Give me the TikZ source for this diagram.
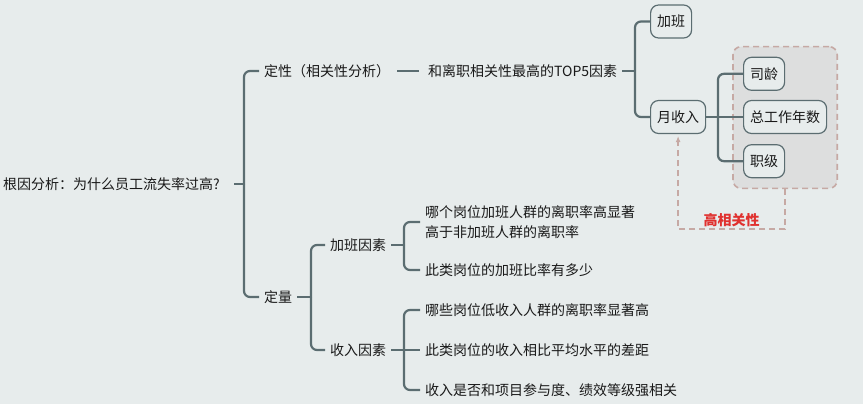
\documentclass[tikz,border=0pt]{standalone}
\usepackage{fontspec}
\setmainfont{Noto Sans CJK SC}
\usepackage{tikz}
\usetikzlibrary{positioning, arrows.meta, fit, backgrounds}

\definecolor{bgcol}{HTML}{E7ECEC}
\definecolor{linecol}{HTML}{5B6D71}
\definecolor{grpfill}{HTML}{DDDEDE}
\definecolor{grpline}{HTML}{C6A9A4}
\definecolor{hotred}{HTML}{E0312F}

\begin{document}
\begin{tikzpicture}[x=1pt, y=-1pt,
    font=\fontsize{14}{20}\selectfont,
    txt/.style={inner sep=5pt, anchor=west, align=left, text=black!90},
    topic/.style={draw=linecol, line width=1.2pt, fill=bgcol, rounded corners=8pt, inner xsep=6.5pt, minimum height=33pt, anchor=west, text=black!90},
    conn/.style={draw=linecol, line width=2.2pt, rounded corners=6pt},
    grp/.style={draw=grpline, fill=grpfill, dash pattern=on 6pt off 4pt, line width=1.6pt, rounded corners=8pt, inner sep=10pt},
    link/.style={draw=grpline, line width=2pt, dash pattern=on 6pt off 4pt, -{Latex[length=6pt, width=5pt]}}]
    \useasboundingbox (0,0) rectangle (863,404);

    % main branches
    \node[txt] (root) at (-2,184) {根因分析：为什么员工流失率过高?};
    \node[txt] (qual) at (259,71) {定性（相关性分析）};
    \node[txt] (quan) at (259,297) {定量};
    \coordinate (j0) at (244,184);

    % qualitative part
    \node[txt] (top5) at (423,71) {和离职相关性最高的TOP5因素};
    \coordinate (j1) at (635,71);
    \node[topic] (ot) at (650,21.5) {加班};
    \node[topic] (inc) at (650,117) {月收入};
    \coordinate (j2) at (718,117);
    \node[topic] (tot) at (743,117) {总工作年数};
    \node[topic, above=9pt of tot.north west, anchor=south west] (sen) {司龄};
    \node[topic, below=10pt of tot.south west, anchor=north west] (rank) {职级};

    % quantitative part
    \node[txt] (otf) at (325,245) {加班因素};
    \node[txt] (incf) at (325,350) {收入因素};
    \coordinate (j3) at (311,297);
    \coordinate (j4) at (404,245);
    \coordinate (j5) at (404,350);
    \node[txt] (q1) at (420,222) {哪个岗位加班人群的离职率高显著\\高于非加班人群的离职率};
    \node[txt] (q2) at (420,270) {此类岗位的加班比率有多少};
    \node[txt] (q3) at (420,310) {哪些岗位低收入人群的离职率显著高};
    \node[txt] (q4) at (420,350) {此类岗位的收入相比平均水平的差距};
    \node[txt] (q5) at (420,390) {收入是否和项目参与度、绩效等级强相关};

    % connectors
    \draw[conn, shorten <=9pt] (root.east) -- (j0);
    \foreach \c in {qual,quan} \draw[conn] (j0) |- (\c.west);
    \draw[conn, shorten <=2pt, shorten >=4pt] (qual) -- (top5);
    \draw[conn] (top5) -- (j1);
    \foreach \c in {ot,inc} \draw[conn] (j1) |- (\c.west);
    \draw[conn] (inc) -- (tot);
    \foreach \c in {sen,rank} \draw[conn] (j2) |- (\c.west);
    \draw[conn] (quan) -- (j3);
    \foreach \c in {otf,incf} \draw[conn] (j3) |- (\c.west);
    \draw[conn] (otf) -- (j4);
    \foreach \c in {q1,q2} \draw[conn] (j4) |- (\c.west);
    \draw[conn] (incf) -- (q4);
    \foreach \c in {q3,q5} \draw[conn] (j5) |- (\c.west);

    % high correlation group
    \begin{pgfonlayer}{background}
      \fill[bgcol] (0,0) rectangle (863,404);
      \node[grp, fit=(sen)(tot)(rank)] (hc) {};
    \end{pgfonlayer}
    \draw[link, shorten >=2pt] (hc.south) -- ++(0,40) -| node[pos=0.25, above, inner sep=1pt, text=hotred, font=\fontsize{14}{20}\selectfont\bfseries] {高相关性} (inc.south);
\end{tikzpicture}
\end{document}
